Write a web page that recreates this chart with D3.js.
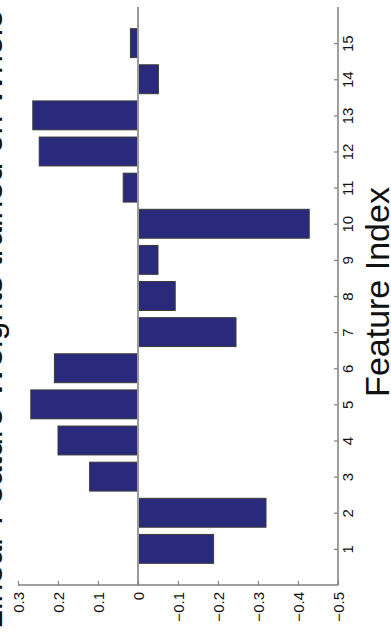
<!DOCTYPE html>
<html>
<head>
<meta charset="utf-8">
<script src="https://cdn.jsdelivr.net/npm/d3@7"></script>
<style>
  html, body { margin: 0; padding: 0; background: #fff; }
  svg { display: block; font-family: "Liberation Sans", Arial, Helvetica, sans-serif; }
</style>
</head>
<body>
<svg id="chart" width="391" height="633"></svg>
<script>
// Feature indices and their learned linear weights
const features = [1, 2, 3, 4, 5, 6, 7, 8, 9, 10, 11, 12, 13, 14, 15];
const weights = [-0.189, -0.32, 0.121, 0.20, 0.268, 0.209, -0.245, -0.093, -0.05, -0.428, 0.037, 0.247, 0.263, -0.051, 0.019];
const weightTicks = [0.3, 0.2, 0.1, 0, -0.1, -0.2, -0.3, -0.4, -0.5];
const featureTicks = [1, 2, 3, 4, 5, 6, 7, 8, 9, 10, 11, 12, 13, 14, 15];
const titleText = "Linear Feature Weights trained on Whole Data";
const featureLabel = "Feature Index";

const svg = d3.select("#chart");
const plot = { left: 18, right: 338, top: 7, bottom: 585 };

// Weight axis runs horizontally (positive to the left), features vertically
const x = d3.scaleLinear().domain([0.3, -0.5]).range([plot.left, plot.right]);
const y = d3.scaleLinear().domain([0, 16]).range([plot.bottom, plot.top]);
const barW = 0.8;

const axisColor = "#7f7f7f";

// Bars
svg.append("g")
  .selectAll("rect")
  .data(features)
  .join("rect")
  .attr("x", (d, i) => Math.min(x(0), x(weights[i])))
  .attr("width", (d, i) => Math.abs(x(weights[i]) - x(0)))
  .attr("y", d => y(d + barW / 2))
  .attr("height", d => y(d - barW / 2) - y(d + barW / 2))
  .attr("fill", "#2a2a7c")
  .attr("stroke", "#3a3a3a")
  .attr("stroke-width", 1);

// Zero baseline
svg.append("line")
  .attr("x1", x(0)).attr("x2", x(0))
  .attr("y1", plot.top).attr("y2", plot.bottom)
  .attr("stroke", "#9a9a9a")
  .attr("stroke-width", 2);

// Weight axis along the bottom
const xAxis = svg.append("g")
  .attr("transform", `translate(0,${plot.bottom})`)
  .call(d3.axisBottom(x).tickValues(weightTicks).tickSize(-4).tickPadding(0)
    .tickFormat(d3.format(".1~f")));
xAxis.select(".domain").attr("stroke", axisColor).attr("stroke-width", 1.5)
  .attr("d", `M${plot.left},0H${plot.right}`);
xAxis.selectAll(".tick line").attr("stroke", axisColor).attr("stroke-width", 1.2);
xAxis.selectAll(".tick text")
  .attr("fill", "#111")
  .style("font-size", "15px")
  .attr("text-anchor", "end")
  .attr("transform", "rotate(-90)")
  .attr("x", -7)
  .attr("y", 0)
  .attr("dy", "0.35em");

// Feature axis on the right
const yAxis = svg.append("g")
  .attr("transform", `translate(${plot.right},0)`)
  .call(d3.axisRight(y).tickValues(featureTicks).tickSize(-4).tickPadding(0));
yAxis.select(".domain").attr("stroke", axisColor).attr("stroke-width", 1.5)
  .attr("d", `M0,${plot.top}V${plot.bottom}`);
yAxis.selectAll(".tick line").attr("stroke", axisColor).attr("stroke-width", 1.2);
yAxis.selectAll(".tick text")
  .attr("fill", "#111")
  .style("font-size", "15px")
  .attr("text-anchor", "middle")
  .attr("transform", "rotate(-90)")
  .attr("x", 0)
  .attr("y", 15)
  .attr("dy", 0);

// Feature axis title
svg.append("text")
  .attr("transform", `translate(389,${292}) rotate(-90)`)
  .attr("text-anchor", "middle")
  .attr("fill", "#111")
  .style("font-size", "34px")
  .text(featureLabel);

// Chart title along the left edge
svg.append("text")
  .attr("transform", `translate(2,629) rotate(-90)`)
  .attr("text-anchor", "start")
  .attr("fill", "#111")
  .style("font-size", "34px")
  .text(titleText);
</script>
</body>
</html>
